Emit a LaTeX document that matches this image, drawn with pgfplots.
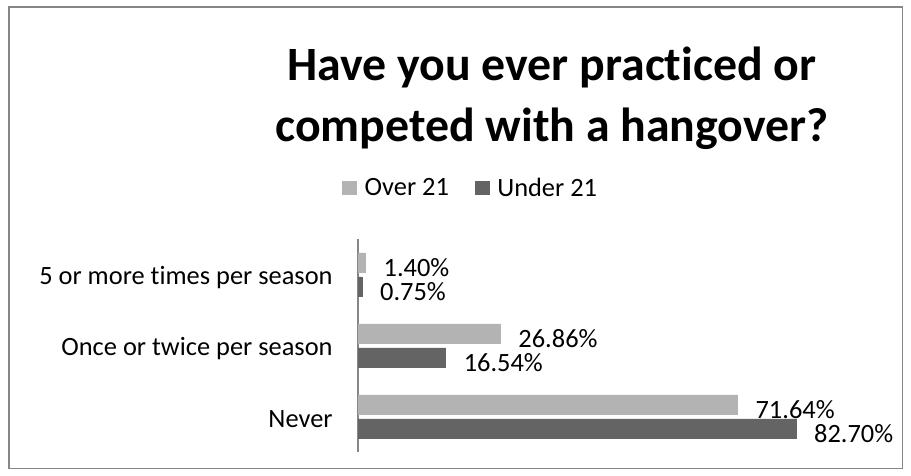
\documentclass[border=0pt]{standalone}
\usepackage{pgfplots}
\pgfplotsset{compat=1.18}
\usepackage{fontspec}
\setmainfont{Carlito}[Ligatures=NoCommon]
\definecolor{lightbar}{HTML}{B3B3B3}
\definecolor{darkbar}{HTML}{646464}
\definecolor{framegray}{HTML}{868686}
\newcommand{\lblfont}{\fontsize{26.5}{31}\selectfont}
\newcommand{\ttlfont}{\fontsize{48}{58}\selectfont\bfseries}
\begin{document}
\begin{tikzpicture}
\path[use as bounding box, fill=white] (0,0) rectangle (911bp,476bp);
\draw[framegray, line width=1.6bp] (8.8bp,468.7bp) rectangle (902.5bp,7.5bp);
\node[font=\ttlfont, anchor=base] at (552bp,395bp) {Have you ever practiced or};
\node[font=\ttlfont, anchor=base] at (552bp,334bp) {competed with a hangover?};
\begin{axis}[
  at={(358bp,24bp)}, anchor=south west,
  width=529.6bp, height=213bp, scale only axis,
  xbar, bar width=19bp,
  xmin=0, xmax=100, ymin=-0.5, ymax=2.5,
  hide x axis,
  axis y line*=left,
  y axis line style={framegray, line width=1.6bp},
  ytick={0,1,2},
  yticklabels={Never, Once or twice per season, 5 or more times per season},
  ytick style={draw=none},
  yticklabel style={font=\lblfont, anchor=east, inner sep=0pt, xshift=-21bp, yshift=-3bp},
  clip=false,
  /pgf/number format/assume math mode=true,
  point meta=x,
  nodes near coords={\pgfmathprintnumber[fixed,fixed zerofill,precision=2]{\pgfplotspointmeta}\%},
  every node near coord/.append style={font=\lblfont, anchor=west, inner sep=0pt, xshift=18bp, yshift=-5bp, text=black},
  legend columns=2,
  legend style={draw=none, fill=none, font=\lblfont, at={(-0.030,1.239)}, anchor=west,
    inner sep=0pt, nodes={inner sep=0pt},
    /tikz/every odd column/.append style={column sep=8bp},
    /tikz/every even column/.append style={column sep=26bp}},
  legend image code/.code={\fill[#1] (0bp,-6.5bp) rectangle (14bp,6.5bp);},
]
\addplot[fill=lightbar, draw=lightbar, bar shift=12bp] coordinates {(71.64,0) (26.86,1) (1.40,2)};
\addplot[fill=darkbar, draw=darkbar, bar shift=-12bp] coordinates {(82.70,0) (16.54,1) (0.75,2)};
\legend{Over 21, Under 21}
\end{axis}
\end{tikzpicture}
\end{document}
